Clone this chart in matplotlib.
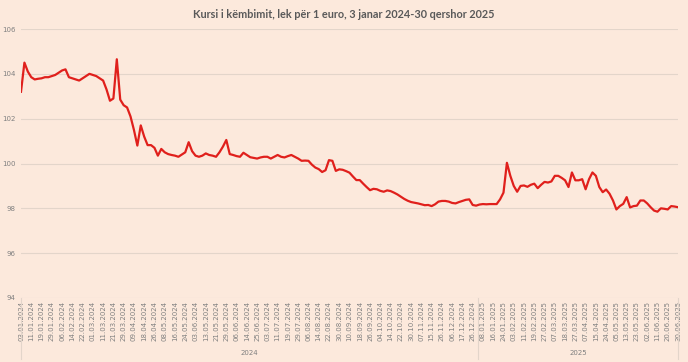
import numpy as np
import matplotlib.pyplot as plt
from matplotlib.lines import Line2D

# kursi lek/euro, lexuar nga grafiku (3 pika per cdo interval etikete)
rate = [
    103.2, 104.5, 104.1, 103.85, 103.75, 103.78, 103.8, 103.85, 103.85, 103.9,
    103.95, 104.05, 104.15, 104.2, 103.85, 103.8, 103.75, 103.7, 103.8, 103.9,
    104.0, 103.95, 103.9, 103.8, 103.7, 103.3, 102.8, 102.9, 104.65, 102.85,
    102.6, 102.5, 102.1, 101.5, 100.8, 101.7, 101.2, 100.82, 100.82, 100.7,
    100.35, 100.65, 100.5, 100.42, 100.38, 100.35, 100.3, 100.4, 100.5, 100.95,
    100.55, 100.35, 100.3, 100.35, 100.45, 100.38, 100.35, 100.3, 100.5, 100.75,
    101.05, 100.42, 100.38, 100.33, 100.3, 100.48, 100.38, 100.28, 100.25, 100.22,
    100.27, 100.3, 100.3, 100.22, 100.3, 100.38, 100.3, 100.27, 100.33, 100.38,
    100.3, 100.22, 100.12, 100.13, 100.12, 99.95, 99.82, 99.75, 99.62, 99.7,
    100.15, 100.12, 99.67, 99.74, 99.72, 99.66, 99.59, 99.42, 99.26, 99.26,
    99.1, 98.95, 98.81, 98.87, 98.85, 98.78, 98.74, 98.8, 98.77, 98.7,
    98.62, 98.52, 98.42, 98.34, 98.28, 98.25, 98.22, 98.18, 98.14, 98.15,
    98.1, 98.18, 98.3, 98.33, 98.33, 98.3, 98.24, 98.22, 98.28, 98.33,
    98.38, 98.4, 98.15, 98.12, 98.17, 98.19, 98.18, 98.19, 98.19, 98.19,
    98.4, 98.7, 100.03, 99.45, 99.0, 98.74, 99.0, 99.02, 98.96, 99.05,
    99.1, 98.9, 99.05, 99.18, 99.15, 99.2, 99.45, 99.45, 99.36, 99.25,
    98.95, 99.6, 99.25, 99.25, 99.3, 98.85, 99.3, 99.6, 99.45, 98.95,
    98.72, 98.84, 98.65, 98.35, 97.95, 98.1, 98.2, 98.5, 98.04, 98.1,
    98.12, 98.35, 98.35, 98.22, 98.05, 97.9, 97.85, 98.0, 97.98, 97.95,
    98.1, 98.08, 98.05,
]

date_labels = [
    "03.01.2024", "11.01.2024", "19.01.2024", "29.01.2024", "06.02.2024",
    "14.02.2024", "22.02.2024", "01.03.2024", "11.03.2024", "21.03.2024",
    "29.03.2024", "09.04.2024", "18.04.2024", "26.04.2024", "08.05.2024",
    "16.05.2024", "24.05.2024", "03.06.2024", "13.05.2024", "21.05.2024",
    "29.05.2024", "06.06.2024", "14.06.2024", "25.06.2024", "03.07.2024",
    "11.07.2024", "19.07.2024", "29.07.2024", "06.08.2024", "14.08.2024",
    "22.08.2024", "30.08.2024", "10.09.2024", "18.09.2024", "26.09.2024",
    "04.10.2024", "14.10.2024", "22.10.2024", "30.10.2024", "07.11.2024",
    "15.11.2024", "26.11.2024", "06.12.2024", "17.12.2024", "26.12.2024",
    "08.01.2025", "16.01.2025", "24.01.2025", "03.02.2025", "11.02.2025",
    "19.02.2025", "27.02.2025", "07.03.2025", "18.03.2025", "27.03.2025",
    "07.04.2025", "15.04.2025", "24.04.2025", "05.05.2025", "13.05.2025",
    "23.05.2025", "02.06.2025", "11.06.2025", "20.06.2025", "30.06.2025",
]
years = ["2024", "2025"]
y_ticks = [94, 96, 98, 100, 102, 104, 106]

bg = "#fce9dc"
grid_c = "#e3d5ca"
txt_c = "#808080"
step = 3  # pika per etikete

fig = plt.figure(figsize=(6.88, 3.62), dpi=100, facecolor=bg)
ax = fig.add_axes([21 / 688, 64 / 362, 657 / 688, 269 / 362])
ax.set_facecolor(bg)

x = np.arange(len(rate))
ax.plot(x, rate, color="#e0201c", lw=1.6, solid_joinstyle="round", zorder=3)

ax.set_xlim(0, len(rate) - 1)
ax.set_ylim(94, 106)
ax.set_yticks(y_ticks)
ax.set_yticklabels([str(v) for v in y_ticks])
ax.grid(axis="y", color=grid_c, lw=0.8)
ax.set_axisbelow(True)
for s in ax.spines.values():
    s.set_visible(False)

tick_pos = x[::step]
ax.set_xticks(tick_pos)
ax.set_xticklabels(date_labels, rotation=90, fontsize=5, color=txt_c)
ax.tick_params(axis="x", length=0, pad=2)
ax.tick_params(axis="y", length=0, labelsize=5, colors=txt_c, pad=4)

# grupet e viteve poshte etiketave
split = tick_pos[date_labels.index("08.01.2025")] - step / 2
edges = [0, split, len(rate) - 1]
trans = ax.get_xaxis_transform()
for e in edges:
    ax.add_line(Line2D([e, e], [0, -0.225], transform=trans, color=grid_c,
                       lw=0.8, clip_on=False))
for i, yr in enumerate(years):
    ax.text((edges[i] + edges[i + 1]) / 2, -0.205, yr, transform=trans,
            ha="center", va="center", fontsize=5, color=txt_c)

fig.text(0.5, 1 - 15 / 362, "Kursi i këmbimit, lek për 1 euro, 3 janar 2024-30 qershor 2025",
         ha="center", va="center", fontsize=7.8, fontweight="bold", color="#595959",
         family="Lato")

fig.savefig("out.png", dpi=100, facecolor=bg)
